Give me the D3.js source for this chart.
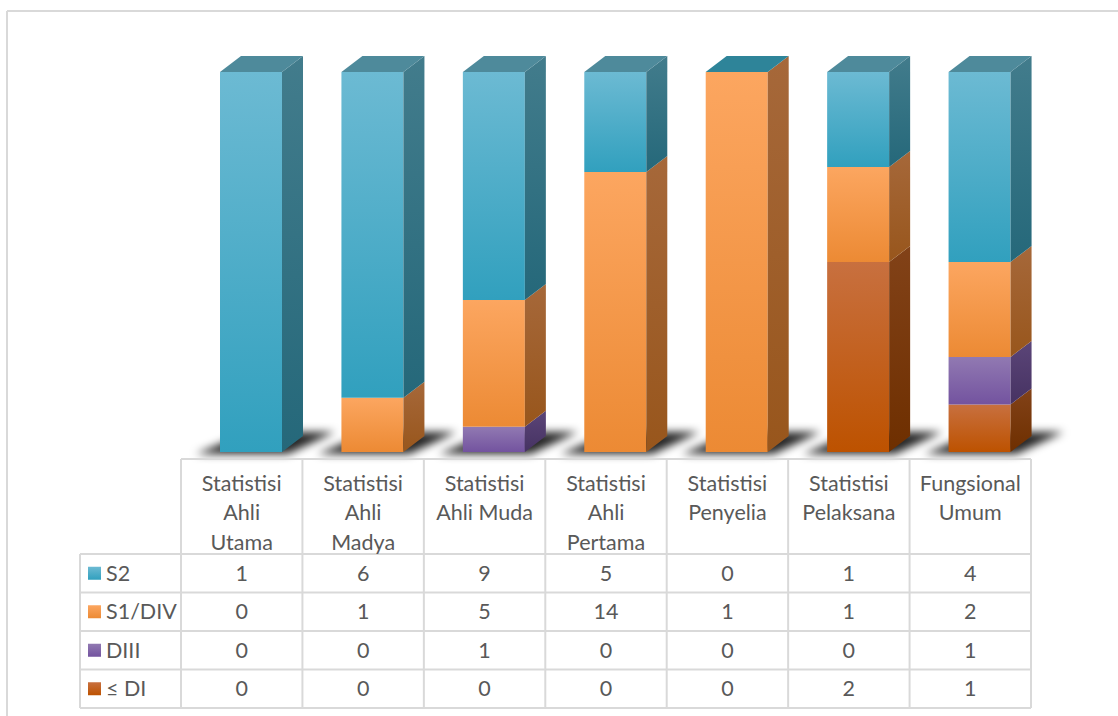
<!DOCTYPE html>
<html>
<head>
<meta charset="utf-8">
<script src="https://cdn.jsdelivr.net/npm/d3@7"></script>
<style>
  html, body { margin: 0; padding: 0; background: #fff; }
  svg { display: block; }
  text { font-family: Lato, "Open Sans", sans-serif; fill: #595959; }
</style>
</head>
<body>
<svg id="chart" width="1118" height="716"></svg>
<script>
// ---- data ----
const categories = ["Statistisi Ahli Utama", "Statistisi Ahli Madya", "Statistisi Ahli Muda",
  "Statistisi Ahli Pertama", "Statistisi Penyelia", "Statistisi Pelaksana", "Fungsional Umum"];
const categoryLines = [["Statistisi", "Ahli", "Utama"], ["Statistisi", "Ahli", "Madya"],
  ["Statistisi", "Ahli Muda"], ["Statistisi", "Ahli", "Pertama"], ["Statistisi", "Penyelia"],
  ["Statistisi", "Pelaksana"], ["Fungsional", "Umum"]];
const seriesNames = ["S2", "S1/DIV", "DIII", "≤ DI"];
const valuesS2 = [1, 6, 9, 5, 0, 1, 4];
const valuesS1 = [0, 1, 5, 14, 1, 1, 2];
const valuesDIII = [0, 0, 1, 0, 0, 0, 1];
const valuesDI = [0, 0, 0, 0, 0, 2, 1];

const seriesValues = { "S2": valuesS2, "S1/DIV": valuesS1, "DIII": valuesDIII, "≤ DI": valuesDI };
const rows = categories.map((c, i) => {
  const r = { category: c };
  seriesNames.forEach(s => r[s] = seriesValues[s][i]);
  return r;
});

// ---- styles ----
const palette = {
  "S2":     { top: "#6cbad3", bottom: "#31a0be", sideTop: "#427c8c", sideBottom: "#25687a" },
  "S1/DIV": { top: "#fca660", bottom: "#ec8a34", sideTop: "#a6683a", sideBottom: "#98561c" },
  "DIII":   { top: "#9179b2", bottom: "#73539f", sideTop: "#5b4578", sideBottom: "#463262" },
  "≤ DI":   { top: "#c8703f", bottom: "#bd5200", sideTop: "#824218", sideBottom: "#6e2f00" }
};
const topFace = "#4e8a9b";

const svg = d3.select("#chart");
const defs = svg.append("defs");

seriesNames.forEach((s, i) => {
  const p = palette[s];
  const g = defs.append("linearGradient").attr("id", "front" + i).attr("x1", 0).attr("y1", 0).attr("x2", 0).attr("y2", 1);
  g.append("stop").attr("offset", "0%").attr("stop-color", p.top);
  g.append("stop").attr("offset", "100%").attr("stop-color", p.bottom);
  const gs = defs.append("linearGradient").attr("id", "side" + i).attr("x1", 0).attr("y1", 0).attr("x2", 0).attr("y2", 1);
  gs.append("stop").attr("offset", "0%").attr("stop-color", p.sideTop);
  gs.append("stop").attr("offset", "100%").attr("stop-color", p.sideBottom);
});
defs.append("filter").attr("id", "blur").attr("x", "-50%").attr("y", "-100%").attr("width", "200%").attr("height", "300%")
  .append("feGaussianBlur").attr("stdDeviation", 4.5);

// ---- outer border ----
svg.append("line").attr("x1", 7).attr("y1", 11).attr("x2", 1118).attr("y2", 11).attr("stroke", "#d9d9d9").attr("stroke-width", 2);
svg.append("line").attr("x1", 7).attr("y1", 11).attr("x2", 7).attr("y2", 716).attr("stroke", "#d9d9d9").attr("stroke-width", 2);

// ---- scales ----
const tableLeft = 181, tableRight = 1031, legendLeft = 80;
const x = d3.scaleBand().domain(categories).range([tableLeft, tableRight]).paddingInner(0).paddingOuter(0);
const y = d3.scaleLinear().domain([0, 1]).range([452, 72]);
const frontOffset = 39, frontW = 62, dx = 21, dy = 16;

const stackKeys = ["≤ DI", "DIII", "S1/DIV", "S2"];
const stacked = d3.stack().keys(stackKeys).offset(d3.stackOffsetExpand)(rows);

// ---- shadows ----
const shadowG = svg.append("g").attr("filter", "url(#blur)");
categories.forEach(c => {
  const x0 = x(c) + frontOffset, yb = y(0);
  shadowG.append("polygon")
    .attr("points", [[x0 - 24, yb + 2], [x0 + frontW + 6, yb + 2], [x0 + frontW + dx + 32, yb - 20], [x0 + dx + 8, yb - 20]].map(p => p.join(",")).join(" "))
    .attr("fill", "#000").attr("opacity", 0.85);
});

// ---- bars ----
const barsG = svg.append("g");
stacked.forEach(layer => {
  const si = seriesNames.indexOf(layer.key);
  layer.forEach(d => {
    const c = d.data.category;
    const x0 = x(c) + frontOffset;
    const yTop = y(d[1]), yBot = y(d[0]);
    if (yBot - yTop <= 0.01) return;
    barsG.append("rect").attr("x", x0).attr("y", yTop).attr("width", frontW).attr("height", yBot - yTop)
      .attr("fill", `url(#front${si})`);
    barsG.append("polygon")
      .attr("points", [[x0 + frontW, yTop], [x0 + frontW + dx, yTop - dy], [x0 + frontW + dx, yBot - dy], [x0 + frontW, yBot]].map(p => p.join(",")).join(" "))
      .attr("fill", `url(#side${si})`);
  });
});
// top faces
categories.forEach((c, i) => {
  const x0 = x(c) + frontOffset, yt = y(1);
  barsG.append("polygon")
    .attr("points", [[x0, yt], [x0 + dx, yt - dy], [x0 + frontW + dx, yt - dy], [x0 + frontW, yt]].map(p => p.join(",")).join(" "))
    .attr("fill", valuesS2[i] === 0 ? "#2e8499" : topFace);
});

// ---- data table ----
const headTop = 459, headBottom = 554;
const rowH = (708 - 554) / 4;
const grid = svg.append("g").attr("stroke", "#d9d9d9").attr("stroke-width", 2);
grid.append("line").attr("x1", tableLeft).attr("x2", tableRight).attr("y1", headTop).attr("y2", headTop);
for (let r = 0; r <= 4; r++) {
  const yy = headBottom + r * rowH;
  grid.append("line").attr("x1", legendLeft).attr("x2", tableRight).attr("y1", yy).attr("y2", yy);
}
grid.append("line").attr("x1", legendLeft).attr("x2", legendLeft).attr("y1", headBottom).attr("y2", 708);
categories.forEach(c => {
  grid.append("line").attr("x1", x(c)).attr("x2", x(c)).attr("y1", headTop).attr("y2", 708);
});
grid.append("line").attr("x1", tableRight).attr("x2", tableRight).attr("y1", headTop).attr("y2", 708);

const fontSize = 21.5;
// category headers
categories.forEach((c, i) => {
  const cx = x(c) + x.bandwidth() / 2;
  const t = svg.append("text").attr("text-anchor", "middle").attr("font-size", fontSize);
  categoryLines[i].forEach((ln, j) => {
    t.append("tspan").attr("x", cx).attr("y", 490.5 + j * 29.5).text(ln);
  });
});
// rows
seriesNames.forEach((s, r) => {
  const cy = headBottom + r * rowH + rowH / 2;
  svg.append("rect").attr("x", 88).attr("y", cy - 6.5).attr("width", 13).attr("height", 13).attr("fill", `url(#front${r})`);
  svg.append("text").attr("x", 106).attr("y", cy + 7.5).attr("font-size", fontSize).text(s);
  seriesValues[s].forEach((v, i) => {
    svg.append("text").attr("x", x(categories[i]) + x.bandwidth() / 2).attr("y", cy + 7.5)
      .attr("text-anchor", "middle").attr("font-size", fontSize).text(v);
  });
});
</script>
</body>
</html>
